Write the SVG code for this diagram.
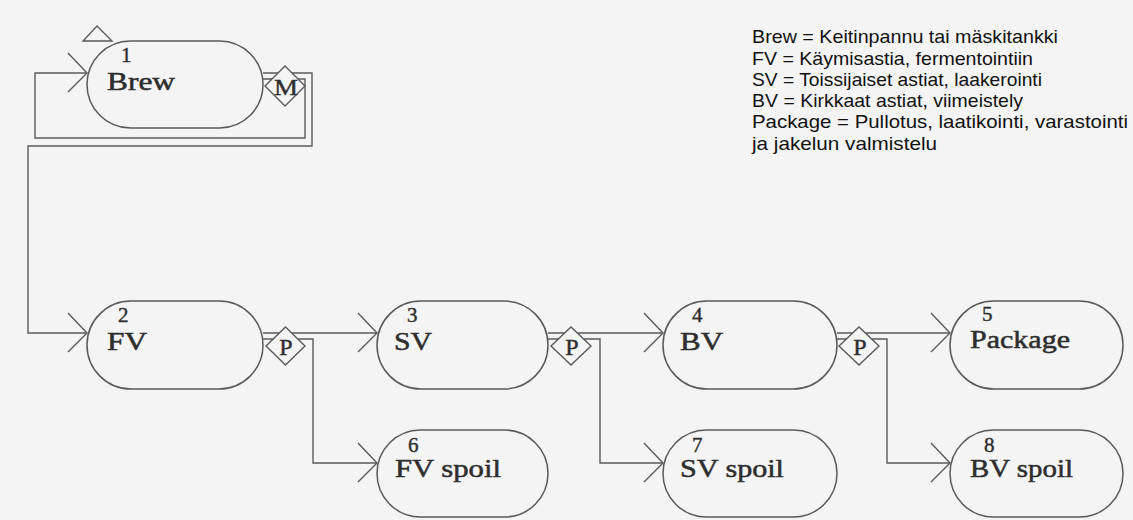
<svg xmlns="http://www.w3.org/2000/svg" width="1133" height="520" viewBox="0 0 1133 520">
<defs>
<marker id="chev" markerUnits="userSpaceOnUse" markerWidth="24" markerHeight="44" refX="21" refY="21" orient="auto" viewBox="0 0 24 44">
<path d="M2,1 L21,21 L2,40" fill="none" stroke="#5a5a5a" stroke-width="1.4"/>
</marker>
</defs>
<style>
.node{fill:none;stroke:#5a5a5a;stroke-width:1.5}
.dia{fill:#f4f4f4;stroke:#5a5a5a;stroke-width:1.4}
.conn{fill:none;stroke:#5a5a5a;stroke-width:1.4}
.num{font-family:"Liberation Serif",serif;font-size:21px;fill:#2e2e2e;stroke:#2e2e2e;stroke-width:0.4}
.lbl{font-family:"Liberation Serif",serif;font-size:25px;fill:#2e2e2e;stroke:#2e2e2e;stroke-width:0.5}
.dl{font-family:"Liberation Serif",serif;font-size:24px;fill:#2e2e2e;stroke:#2e2e2e;stroke-width:0.4;text-anchor:middle}
.leg{font-family:"Liberation Sans",sans-serif;font-size:18.5px;fill:#111}
</style>
<rect x="0" y="0" width="1133" height="520" fill="#f4f4f4"/>

<g id="connectors">
<polyline class="conn" points="263,79 305,79 305,138 35,138 35,73 87,73" marker-end="url(#chev)"/>
<polyline class="conn" points="263,73 312,73 312,146 28,146 28,333 87,333" marker-end="url(#chev)"/>
<polyline class="conn" points="263,333 377,333" marker-end="url(#chev)"/>
<polyline class="conn" points="263,339 313,339 313,463 377,463" marker-end="url(#chev)"/>
<polyline class="conn" points="548,333 663,333" marker-end="url(#chev)"/>
<polyline class="conn" points="548,339 600,339 600,463 663,463" marker-end="url(#chev)"/>
<polyline class="conn" points="837,333 950,333" marker-end="url(#chev)"/>
<polyline class="conn" points="837,339 887,339 887,463 950,463" marker-end="url(#chev)"/>
</g>

<g id="n1">
<polygon class="conn" points="83,41 112,41 97,26"/>
<rect class="node" x="87" y="41" width="176" height="87" rx="43.5"/>
<text class="num" x="121" y="62">1</text>
<text class="lbl" x="107" y="90" textLength="68" lengthAdjust="spacingAndGlyphs">Brew</text>
</g>
<g id="m1">
<polygon class="dia" points="285,66 305,86 285,106 265,86"/>
<text class="dl" x="286" y="95" textLength="24" lengthAdjust="spacingAndGlyphs">M</text>
</g>

<g id="n2">
<rect class="node" x="87" y="301" width="176" height="88" rx="44"/>
<text class="num" x="118" y="322">2</text>
<text class="lbl" x="107" y="350" textLength="40" lengthAdjust="spacingAndGlyphs">FV</text>
</g>
<g id="p2">
<polygon class="dia" points="285.5,327 305,346 285.5,365 266,346"/>
<text class="dl" x="286" y="355">P</text>
</g>

<g id="n3">
<rect class="node" x="377" y="301" width="171" height="88" rx="44"/>
<text class="num" x="407" y="322">3</text>
<text class="lbl" x="394" y="350" textLength="38" lengthAdjust="spacingAndGlyphs">SV</text>
</g>
<g id="p3">
<polygon class="dia" points="571,327 591,346 571,365 551,346"/>
<text class="dl" x="572" y="355">P</text>
</g>

<g id="n4">
<rect class="node" x="663" y="301" width="174" height="88" rx="44"/>
<text class="num" x="692" y="322">4</text>
<text class="lbl" x="680" y="350" textLength="43" lengthAdjust="spacingAndGlyphs">BV</text>
</g>
<g id="p4">
<polygon class="dia" points="859,327 879,346 859,365 839,346"/>
<text class="dl" x="860" y="355">P</text>
</g>

<g id="n5">
<rect class="node" x="950" y="301" width="173" height="88" rx="44"/>
<text class="num" x="982" y="321">5</text>
<text class="lbl" x="970" y="348" textLength="100" lengthAdjust="spacingAndGlyphs">Package</text>
</g>

<g id="n6">
<rect class="node" x="377" y="430" width="171" height="87" rx="43.5"/>
<text class="num" x="408" y="452">6</text>
<text class="lbl" x="395" y="477" textLength="106" lengthAdjust="spacingAndGlyphs">FV spoil</text>
</g>

<g id="n7">
<rect class="node" x="663" y="430" width="174" height="87" rx="43.5"/>
<text class="num" x="692" y="452">7</text>
<text class="lbl" x="680" y="477" textLength="104" lengthAdjust="spacingAndGlyphs">SV spoil</text>
</g>

<g id="n8">
<rect class="node" x="950" y="430" width="173" height="87" rx="43.5"/>
<text class="num" x="984" y="452">8</text>
<text class="lbl" x="970" y="477" textLength="103" lengthAdjust="spacingAndGlyphs">BV spoil</text>
</g>

<g id="legend">
<text class="leg" x="752" y="43" textLength="306" lengthAdjust="spacingAndGlyphs">Brew = Keitinpannu tai mäskitankki</text>
<text class="leg" x="752" y="65" textLength="281" lengthAdjust="spacingAndGlyphs">FV = Käymisastia, fermentointiin</text>
<text class="leg" x="752" y="86" textLength="290" lengthAdjust="spacingAndGlyphs">SV = Toissijaiset astiat, laakerointi</text>
<text class="leg" x="752" y="107" textLength="271" lengthAdjust="spacingAndGlyphs">BV = Kirkkaat astiat, viimeistely</text>
<text class="leg" x="752" y="128" textLength="376" lengthAdjust="spacingAndGlyphs">Package = Pullotus, laatikointi, varastointi</text>
<text class="leg" x="752" y="150" textLength="185" lengthAdjust="spacingAndGlyphs">ja jakelun valmistelu</text>
</g>
</svg>
